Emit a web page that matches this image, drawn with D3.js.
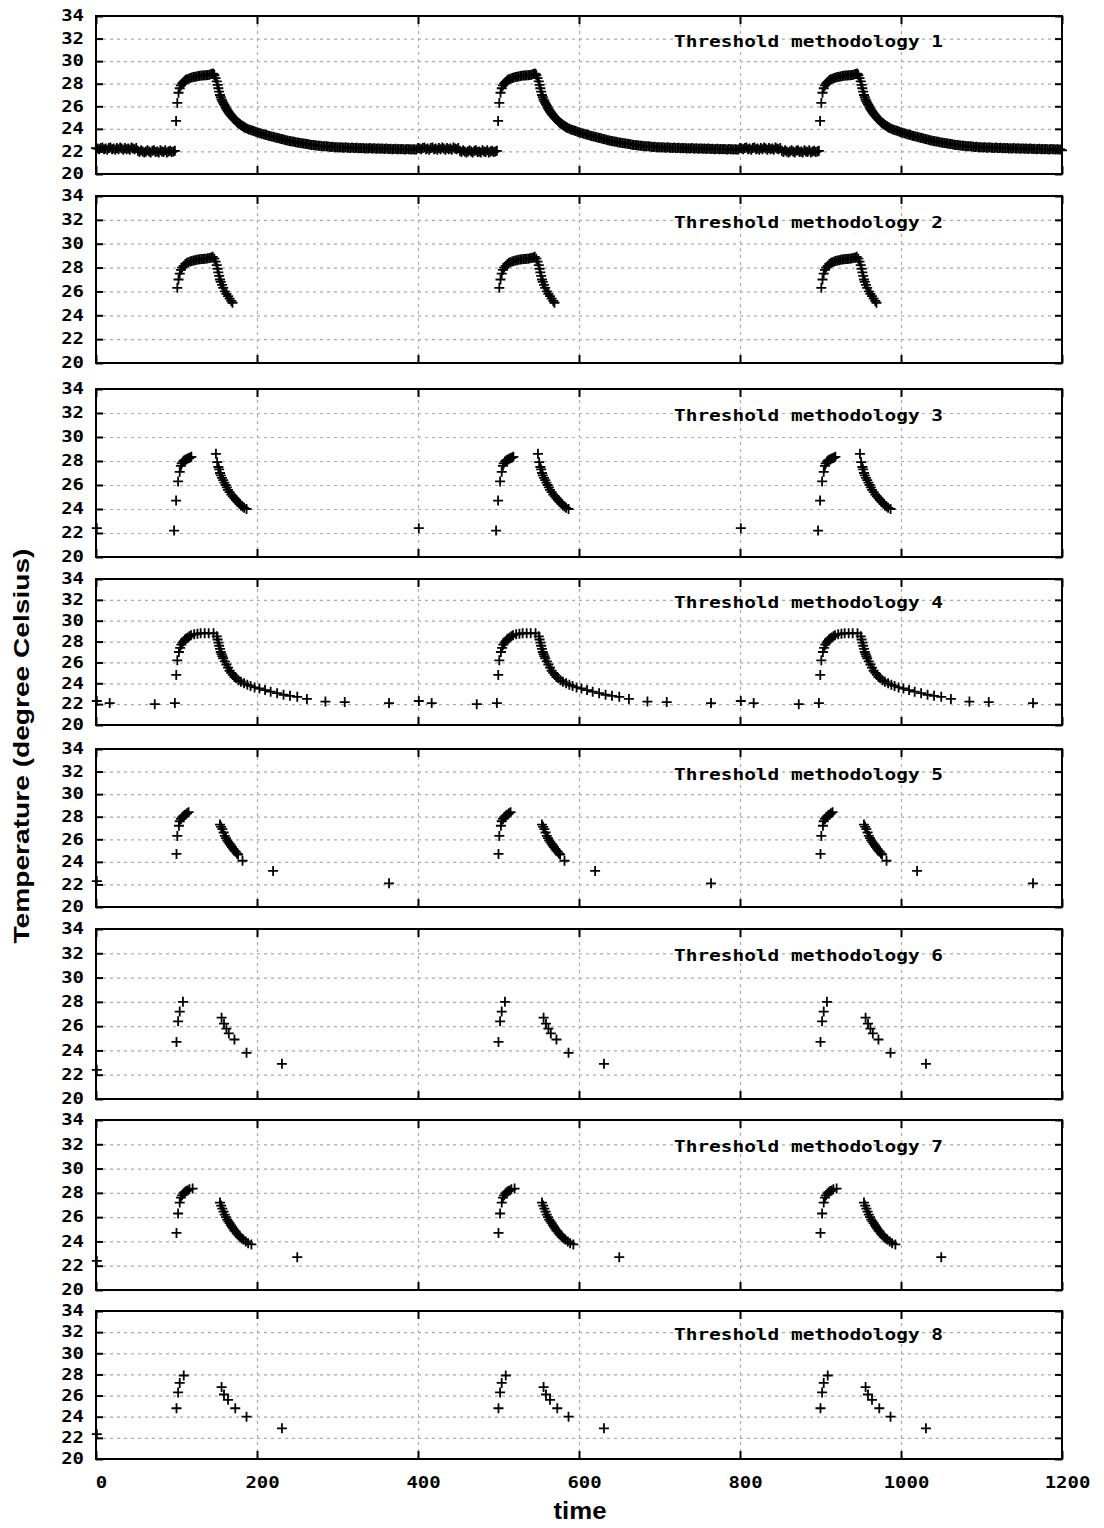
<!DOCTYPE html>
<html>
<head>
<meta charset="utf-8">
<script src="https://cdn.jsdelivr.net/npm/d3@7"></script>
<style>
  body { margin: 0; background: #fff; }
  svg { display: block; }
</style>
</head>
<body>
<div id="chart"></div>
<script>

var width = 1104;
var height = 1528;

var xLeft = 96;
var xRight = 1062;
var tickLen = 7;
var monoFont = "'DejaVu Sans Mono', monospace";
var sansFont = "'Liberation Sans', Arial, sans-serif";

// panel frames, top and bottom pixel rows
var panelBox = [[16, 174], [196, 363], [389, 557], [579, 725],
                [749, 907], [929, 1099], [1120, 1290], [1311, 1459]];

var xTicks = [0, 200, 400, 600, 800, 1000, 1200];
var yTicks = [20, 22, 24, 26, 28, 30, 32, 34];
var xGrid = [200, 400, 600, 800, 1000];
var yGrid = [22, 24, 26, 28, 30, 32];

var panelNames = [
    "Threshold methodology 1", "Threshold methodology 2",
    "Threshold methodology 3", "Threshold methodology 4",
    "Threshold methodology 5", "Threshold methodology 6",
    "Threshold methodology 7", "Threshold methodology 8"
];

// the experiment repeats every 400 s
var cycleStarts = [0, 400, 800];

// methodology 1 keeps every sample (one every 2 s) on the flat parts
var m1SampleStep = 2;
var m1BaseStart = 0;
var m1Base = [
    22.3, 22.25, 22.2, 22.3, 22.35, 22.2, 22.25, 22.15, 22.3, 22.35,
    22.2, 22.25, 22.15, 22.3, 22.2, 22.35, 22.25, 22.15, 22.3, 22.2,
    22.25, 22.15, 22.35, 22.25, 22.2, 22.3,
    22.05, 21.95, 22.1, 22.0,
    21.9, 22.0, 22.1, 22.0, 21.9, 22.05, 22.1, 21.95, 22.0, 21.9,
    22.1, 22.0, 21.95, 22.1, 21.9, 22.0, 22.05, 21.95, 22.0, 22.05
];
var m1TailStart = 188;
var m1Tail = [
    24.02, 23.95, 23.9, 23.86, 23.8, 23.75, 23.7, 23.66, 23.6, 23.57,
    23.52, 23.48, 23.45, 23.4, 23.36, 23.33, 23.3, 23.25, 23.22, 23.18,
    23.15, 23.1, 23.07, 23.03, 23.0, 22.96, 22.93, 22.9, 22.88, 22.85,
    22.82, 22.8, 22.77, 22.75, 22.72, 22.7, 22.68, 22.65, 22.63, 22.6,
    22.58, 22.56, 22.55, 22.53, 22.5, 22.5, 22.48, 22.46, 22.45, 22.45,
    22.43, 22.42, 22.4, 22.42, 22.38, 22.36, 22.37, 22.35, 22.38, 22.34,
    22.33, 22.36, 22.32, 22.33, 22.3, 22.34, 22.31, 22.3, 22.33, 22.29,
    22.3, 22.28, 22.31, 22.27, 22.29, 22.26, 22.3, 22.27, 22.25, 22.28,
    22.24, 22.26, 22.25, 22.23, 22.26, 22.22, 22.25, 22.23, 22.21, 22.24,
    22.2, 22.22, 22.23, 22.2, 22.22, 22.19, 22.21, 22.2, 22.18, 22.21,
    22.19, 22.2, 22.17, 22.2, 22.18, 22.17
];
// [time within cycle, temperature]
var m1Peak = [
    [99.5, 24.7], [101, 26.3], [102.5, 27.2], [104, 27.6], [105.5, 27.85], [107, 28.0],
    [108, 28.08], [109, 28.15], [110, 28.22], [111, 28.3], [112, 28.35], [113, 28.4],
    [115, 28.45], [117, 28.5], [119, 28.55], [121, 28.6], [123, 28.62], [125, 28.65],
    [127, 28.68], [129, 28.7], [131, 28.72], [133, 28.72], [135, 28.75], [137, 28.75],
    [139, 28.78], [141, 28.8], [143, 28.85], [145, 28.9], [146, 28.85], [147, 28.75],
    [148.5, 28.5], [150, 28.2], [151, 27.9], [152, 27.6], [153, 27.3], [154, 27.0],
    [155, 26.8], [156, 26.6], [157, 26.45], [158, 26.3], [159, 26.17], [160, 26.05],
    [161, 25.9], [162, 25.78], [163, 25.66], [164, 25.55], [165, 25.45], [166, 25.35],
    [167, 25.25], [168, 25.17], [169, 25.08], [170, 25.0], [171, 24.92], [172, 24.85],
    [173, 24.78], [174, 24.7], [175, 24.62], [176, 24.55], [177, 24.5], [178, 24.45],
    [179, 24.4], [180, 24.35], [181, 24.3], [182, 24.25], [183, 24.2], [184, 24.15],
    [185, 24.12], [186, 24.08]
];
var m1Extra = [[1200, 22.1]];

var m2Cycle = [
    [101, 26.3], [102.5, 27.0], [104, 27.5], [105.5, 27.8], [107, 28.0], [109, 28.15],
    [111, 28.3], [113, 28.4], [115, 28.45], [117, 28.5], [119, 28.55], [121, 28.6],
    [123, 28.62], [125, 28.65], [127, 28.68], [129, 28.7], [131, 28.72], [133, 28.72],
    [135, 28.75], [137, 28.75], [139, 28.78], [141, 28.8], [143, 28.85], [145, 28.9],
    [147, 28.75], [148.5, 28.5], [150, 28.2], [151, 27.9], [152, 27.6], [153, 27.3],
    [154, 27.0], [155, 26.8], [156.5, 26.55], [158, 26.3], [160, 26.0], [162, 25.8],
    [164, 25.6], [166, 25.4], [168, 25.2], [169.5, 25.05]
];

var m3Cycle = [
    [1, 22.4], [97, 22.2], [99.5, 24.7], [102, 26.3], [104, 27.1], [105.5, 27.6],
    [106.5, 27.8], [108, 27.95], [109.5, 28.05], [111, 28.1], [112.5, 28.15], [114, 28.2],
    [115.5, 28.25], [117, 28.3], [118.5, 28.35],
    [149, 28.6], [150.5, 27.9], [152, 27.5], [153, 27.3], [154, 27.0], [155, 26.8],
    [156.5, 26.6], [158, 26.4], [159.5, 26.2], [161, 26.0], [162.5, 25.8], [164, 25.6],
    [166, 25.4], [168, 25.2], [170, 25.05], [172, 24.9], [174, 24.75], [176, 24.6],
    [178, 24.45], [180, 24.3], [182, 24.2], [184, 24.1], [187, 24.0]
];

var m4Cycle = [
    [1, 22.3], [17, 22.1], [73, 22.0], [98, 22.1], [99.7, 24.8], [101, 26.2], [103, 27.0],
    [104.5, 27.4], [106, 27.7], [107.5, 27.9], [109, 28.05], [110.5, 28.2], [112, 28.3],
    [114, 28.4], [116, 28.5], [118, 28.6], [122, 28.7], [126, 28.75], [130, 28.8],
    [135, 28.8], [140, 28.8], [146, 28.8],
    [150, 28.5], [151, 28.2], [152, 27.9], [153, 27.6], [154, 27.3], [155, 27.0],
    [156, 26.8], [157, 26.6], [158, 26.4], [160, 26.1], [162, 25.8], [164, 25.5],
    [166, 25.2], [168, 25.0], [170, 24.8], [172, 24.6], [174, 24.5], [177, 24.3],
    [180, 24.15], [184, 24.0], [188, 23.85], [192, 23.75], [197, 23.6], [203, 23.5],
    [210, 23.35], [217, 23.2], [225, 23.05], [233, 22.9], [241, 22.8], [250, 22.7],
    [262, 22.5], [285, 22.25], [309, 22.2], [364, 22.1]
];

var m5Cycle = [
    [100, 24.7], [101, 26.3], [103, 27.2], [104, 27.6], [105.5, 27.8],
    [107, 27.95], [108.5, 28.05], [110, 28.15], [111.5, 28.2], [113, 28.3], [115, 28.4],
    [154, 27.3], [155.5, 27.1], [157, 26.9], [158.5, 26.6], [160, 26.3], [161.5, 26.1],
    [163, 25.9], [164.5, 25.75], [166, 25.6], [167.5, 25.45], [169, 25.3], [170.5, 25.15],
    [172, 25.0], [173.5, 24.9], [175, 24.75], [176.5, 24.65], [182, 24.1],
    [220, 23.2], [364, 22.1]
];

var m6Cycle = [
    [100, 24.7], [102, 26.4], [104, 27.2], [108, 28.0],
    [156, 26.7], [159, 26.2], [162, 25.8], [165, 25.4], [172, 24.9], [187, 23.8],
    [231, 22.9]
];

var m7Cycle = [
    [100, 24.7], [102, 26.3], [104, 27.2], [105.5, 27.6], [107, 27.8],
    [108.5, 27.95], [110, 28.05], [112, 28.15], [114, 28.2], [116, 28.3], [120, 28.35],
    [154, 27.2], [155.5, 26.95], [157, 26.7], [158.5, 26.45], [160, 26.2], [161.5, 26.0],
    [163, 25.8], [164.5, 25.65], [166, 25.5], [167.5, 25.35], [169, 25.2], [170.5, 25.05],
    [172, 24.9], [173.5, 24.8], [175, 24.65], [177, 24.5], [179, 24.35], [181, 24.25],
    [183, 24.15], [186, 24.0], [189, 23.85], [193, 23.75],
    [250, 22.7]
];

var m8Cycle = [
    [100, 24.8], [102, 26.3], [104, 27.2], [109, 27.9],
    [156, 26.8], [159, 26.1], [164, 25.6], [173, 24.8], [187, 24.0],
    [231, 22.9]
];

// single readings at the very start, only in the first cycle
var m5Extra = [[1, 22.3]];
var m6Extra = [[1, 22.4]];
var m7Extra = [[1, 22.4]];
var m8Extra = [[1, 22.35]];

function sampled(start, temps) {
    return temps.map((v, k) => [start + k * m1SampleStep, v]);
}

var m1Cycle = sampled(m1BaseStart, m1Base).concat(m1Peak, sampled(m1TailStart, m1Tail));

var cycles = [m1Cycle, m2Cycle, m3Cycle, m4Cycle, m5Cycle, m6Cycle, m7Cycle, m8Cycle];
var extras = [m1Extra, [], [], [], m5Extra, m6Extra, m7Extra, m8Extra];

function expand(cycle, extra) {
    var pts = [];
    cycleStarts.forEach(function(s) {
        cycle.forEach(function(p) { pts.push({t: s + p[0], v: p[1]}); });
    });
    extra.forEach(function(p) { pts.push({t: p[0], v: p[1]}); });
    return pts;
}

var xScale = d3.scaleLinear()
    .domain([0, 1200])
    .range([xLeft, xRight]);

var svg = d3.select("#chart").append("svg")
    .attr("width", width)
    .attr("height", height);

var plus = "M-5,0H5M0,-5V5";

panelBox.forEach(function(box, i) {
    var yScale = d3.scaleLinear()
        .domain([20, 34])
        .range([box[1], box[0]]);

    var g = svg.append("g").attr("class", "panel");

    /* grid */
    g.append("g")
        .attr("transform", `translate(${xLeft},0)`)
        .call(d3.axisLeft(yScale).tickValues(yGrid).tickSize(-(xRight - xLeft)).tickFormat(""))
        .call(s => s.select(".domain").remove())
        .selectAll("line")
        .attr("stroke", "#aaa")
        .attr("stroke-width", 1.2)
        .attr("stroke-dasharray", "3,4");

    g.append("g")
        .attr("transform", `translate(0,${box[1]})`)
        .call(d3.axisBottom(xScale).tickValues(xGrid).tickSize(-(box[1] - box[0])).tickFormat(""))
        .call(s => s.select(".domain").remove())
        .selectAll("line")
        .attr("stroke", "#aaa")
        .attr("stroke-width", 1.2)
        .attr("stroke-dasharray", "3,4");

    /* ticks on all four sides, pointing inward */
    var yLeft = g.append("g")
        .attr("transform", `translate(${xLeft},0)`)
        .call(d3.axisLeft(yScale).tickValues(yTicks).tickSize(-tickLen).tickPadding(12).tickFormat(d3.format("d")));
    yLeft.select(".domain").remove();
    yLeft.selectAll("line").attr("stroke", "#000").attr("stroke-width", 2);
    yLeft.selectAll("text")
        .attr("font-family", monoFont)
        .attr("font-weight", "bold")
        .attr("font-size", 15)
        .attr("fill", "#000")
        .attr("textLength", d => String(d).length * 11.4)
        .attr("lengthAdjust", "spacingAndGlyphs");

    g.append("g")
        .attr("transform", `translate(${xRight},0)`)
        .call(d3.axisRight(yScale).tickValues(yTicks).tickSize(-tickLen).tickFormat(""))
        .call(s => s.select(".domain").remove())
        .selectAll("line").attr("stroke", "#000").attr("stroke-width", 2);

    g.append("g")
        .attr("transform", `translate(0,${box[0]})`)
        .call(d3.axisTop(xScale).tickValues(xTicks).tickSize(-tickLen - 1).tickFormat(""))
        .call(s => s.select(".domain").remove())
        .selectAll("line").attr("stroke", "#000").attr("stroke-width", 2);

    var xBottom = g.append("g")
        .attr("transform", `translate(0,${box[1]})`)
        .call(d3.axisBottom(xScale).tickValues(xTicks).tickSize(-tickLen - 1)
            .tickFormat(i == panelBox.length - 1 ? d3.format("d") : ""));
    xBottom.select(".domain").remove();
    xBottom.selectAll("line").attr("stroke", "#000").attr("stroke-width", 2);
    xBottom.selectAll("text")
        .attr("y", 29)
        .attr("dy", 0)
        .attr("dx", 5)
        .attr("font-family", monoFont)
        .attr("font-weight", "bold")
        .attr("font-size", 15)
        .attr("fill", "#000")
        .attr("textLength", d => String(d).length * 11.4)
        .attr("lengthAdjust", "spacingAndGlyphs");

    /* frame */
    g.append("rect")
        .attr("x", xLeft)
        .attr("y", box[0])
        .attr("width", xRight - xLeft)
        .attr("height", box[1] - box[0])
        .attr("fill", "none")
        .attr("stroke", "#000")
        .attr("stroke-width", 2);

    /* title */
    g.append("text")
        .attr("x", 674)
        .attr("y", yScale(32) + 8)
        .attr("font-family", monoFont)
        .attr("font-weight", "bold")
        .attr("font-size", 15)
        .attr("textLength", 269)
        .attr("lengthAdjust", "spacingAndGlyphs")
        .text(panelNames[i]);

    /* points */
    g.append("g")
        .selectAll("path")
        .data(expand(cycles[i], extras[i])).enter()
        .append("path")
        .attr("d", plus)
        .attr("transform", d => `translate(${xScale(d.t)},${yScale(d.v)})`)
        .attr("fill", "none")
        .attr("stroke", "#000")
        .attr("stroke-width", 1.8);
});

/* axis titles */
svg.append("text")
    .attr("x", 580)
    .attr("y", 1519)
    .attr("text-anchor", "middle")
    .attr("font-family", sansFont)
    .attr("font-weight", "bold")
    .attr("font-size", 23)
    .attr("textLength", 53)
    .attr("lengthAdjust", "spacingAndGlyphs")
    .text("time");

svg.append("text")
    .attr("transform", "translate(29,746) rotate(-90)")
    .attr("text-anchor", "middle")
    .attr("font-family", sansFont)
    .attr("font-weight", "bold")
    .attr("font-size", 22)
    .attr("textLength", 395)
    .attr("lengthAdjust", "spacingAndGlyphs")
    .text("Temperature (degree Celsius)");

</script>
</body>
</html>
